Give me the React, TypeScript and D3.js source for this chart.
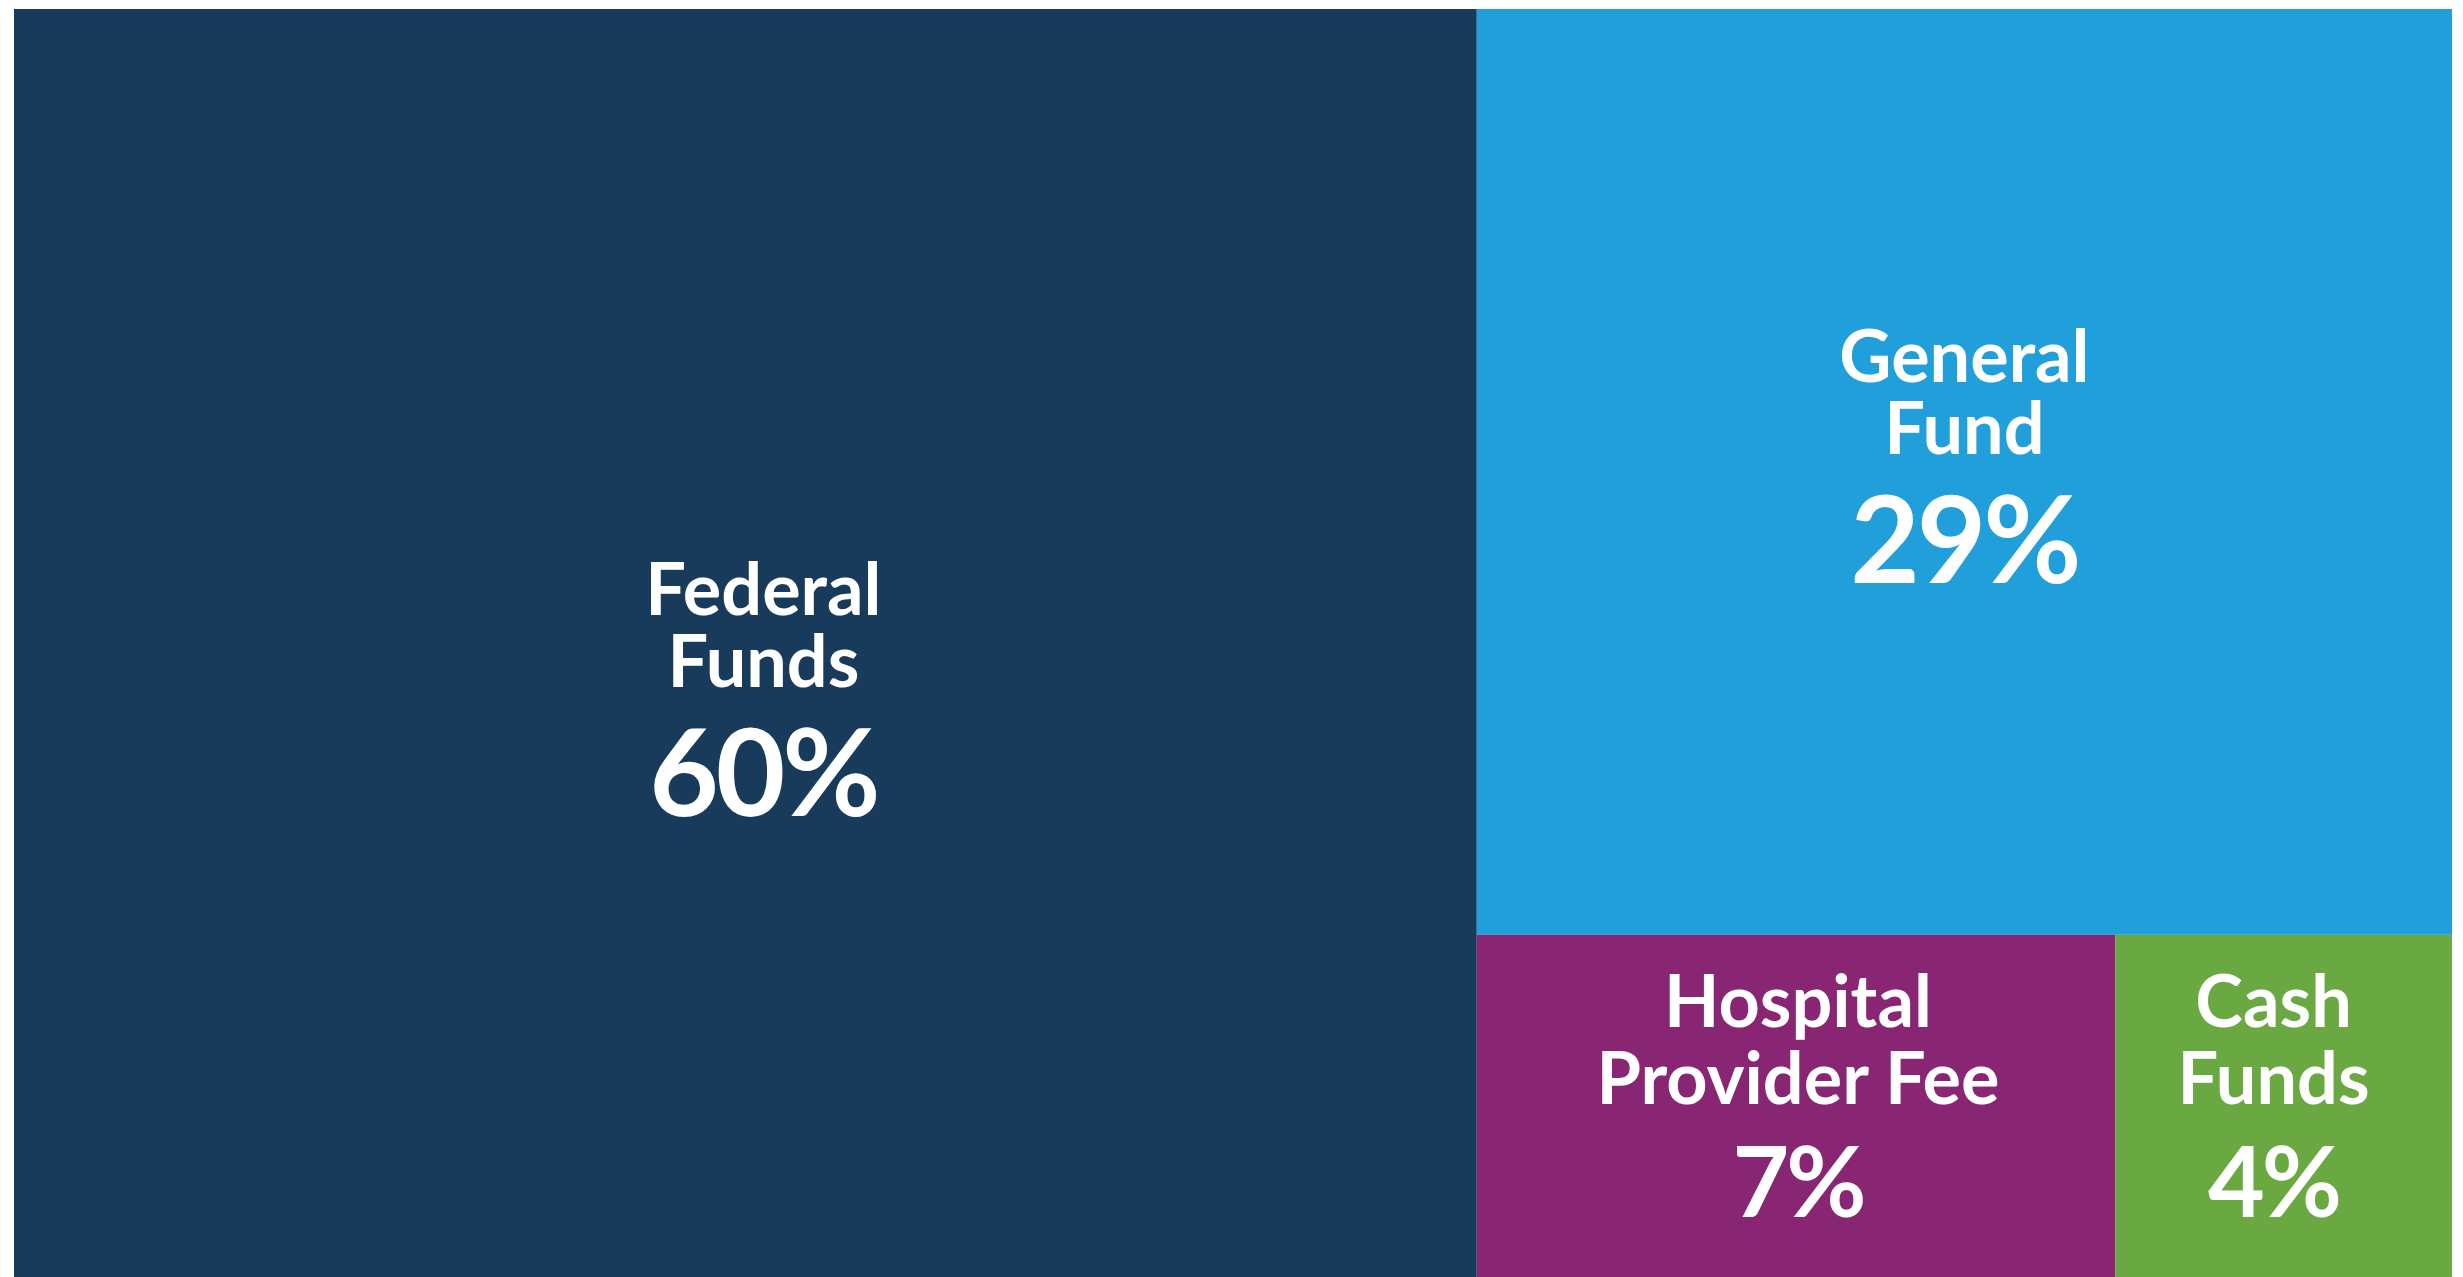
import React from "react";
import * as d3 from "d3";

// ---- data ----
const categories = ["Federal Funds", "General Fund", "Hospital Provider Fee", "Cash Funds"];
const shares = [60, 29, 7.2, 3.8];
const percentLabels = ["60%", "29%", "7%", "4%"];
const nameLines = [["Federal", "Funds"], ["General", "Fund"], ["Hospital", "Provider Fee"], ["Cash", "Funds"]];
const colors = ["#183B5C", "#219FDB", "#892673", "#6AA842"];
// grouping: Federal | (General / (Hospital | Cash))
const groups = ["Federal Funds", ["General Fund", ["Hospital Provider Fee", "Cash Funds"]]];

// ---- layout ----
const W = 2463;
const H = 1277;
const X0 = 14;
const Y0 = 9;
const TW = 2438;
const TH = 1277;

const labelShift: Record<string, [number, number]> = {
  "Federal Funds": [18, 42],
  "General Fund": [0, -15],
  "Hospital Provider Fee": [2, -13],
  "Cash Funds": [-10, -13],
};

type Node = { name: string; value?: number; children?: Node[] };

function build(g: any): Node {
  if (typeof g === "string") {
    const i = categories.indexOf(g);
    return { name: g, value: shares[i] };
  }
  return { name: "group", children: g.map(build) };
}

export default function App() {
  const rootData: Node = { name: "root", children: groups.map(build) };
  const root = d3.hierarchy<Node>(rootData).sum((d) => d.value || 0);
  d3.treemap<Node>().tile(d3.treemapSliceDice).size([TW, TH]).paddingInner(0)(root);
  const leaves = root.leaves() as d3.HierarchyRectangularNode<Node>[];

  const font = "Lato, 'Open Sans', sans-serif";

  return (
    <svg
      width={W}
      height={H}
      style={{ position: "absolute", left: 0, top: 0, background: "#fff" }}
    >
      <g transform={`translate(${X0},${Y0})`}>
        {leaves.map((l) => {
          const i = categories.indexOf(l.data.name);
          const [dx, dy] = labelShift[l.data.name];
          const cx = (l.x0 + l.x1) / 2 + dx;
          const cy = (l.y0 + l.y1) / 2 + dy;
          const big = l.y1 - l.y0 > 600;
          const pctSize = big ? 120 : 98;
          const b1 = big ? cy - 75 : cy - 70;
          const b2 = big ? cy - 3 : cy + 7;
          const b3 = big ? cy + 126 : cy + 120;
          return (
            <g key={l.data.name}>
              <rect
                x={l.x0}
                y={l.y0}
                width={l.x1 - l.x0}
                height={l.y1 - l.y0}
                fill={colors[i]}
              />
              {[b1, b2].map((b, k) => (
                <text
                  key={k}
                  x={cx}
                  y={b}
                  textAnchor="middle"
                  fill="#fff"
                  fontFamily={font}
                  fontWeight={700}
                  fontSize={72}
                >
                  {nameLines[i][k]}
                </text>
              ))}
              <text
                x={cx}
                y={b3}
                textAnchor="middle"
                fill="#fff"
                fontFamily={font}
                fontWeight={700}
                fontSize={pctSize}
                letterSpacing={-3}
              >
                {percentLabels[i]}
              </text>
            </g>
          );
        })}
      </g>
    </svg>
  );
}
